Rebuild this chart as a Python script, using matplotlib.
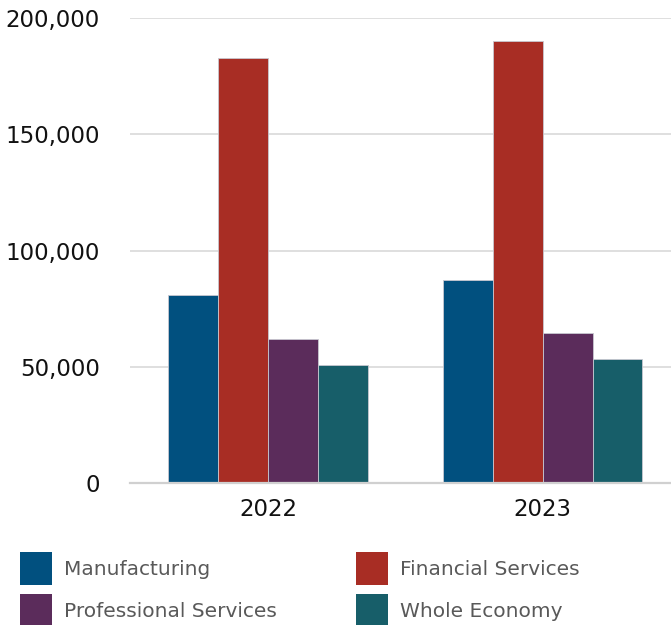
import numpy as np
import matplotlib.pyplot as plt
from matplotlib.patches import Patch

years = ['2022', '2023']
series = ['Manufacturing', 'Financial Services', 'Professional Services', 'Whole Economy']
manufacturing = [81000, 87300]
financial = [182800, 190200]
professional = [61800, 64400]
whole_economy = [51000, 53300]
colours = ['#01507f', '#a82d24', '#5b2c5b', '#175e69']

values = [manufacturing, financial, professional, whole_economy]

fig = plt.figure(figsize=(6.71, 6.25), dpi=100)
ax = fig.add_axes([0.194, 0.227, 0.806, 0.744])

x = np.arange(len(years))
width = 0.182
for i, (name, vals) in enumerate(zip(series, values)):
    ax.bar(x + (i - 1.5) * width, vals, width, color=colours[i],
           edgecolor='#c8c8d0', linewidth=0.6, label=name, zorder=3)

ax.set_xlim(-0.503, 1.468)
ax.set_ylim(0, 200000)
ax.set_yticks([0, 50000, 100000, 150000, 200000])
ax.set_yticklabels(['0', '50,000', '100,000', '150,000', '200,000'])
ax.set_xticks(x)
ax.set_xticklabels(years)
ax.tick_params(axis='both', length=0, labelsize=16.5, colors='#111111')
ax.tick_params(axis='y', pad=22)
ax.tick_params(axis='x', pad=11)
ax.yaxis.grid(True, color='#dcdcdc', linewidth=1.3, zorder=0)
ax.set_axisbelow(True)
for s in ['top', 'right', 'left']:
    ax.spines[s].set_visible(False)
ax.spines['bottom'].set_color('#d0d0d0')
ax.spines['bottom'].set_linewidth(1.6)
ax.spines['bottom'].set_zorder(4)

handles = [Patch(facecolor=c, edgecolor='none') for c in colours]
order = [0, 2, 1, 3]
leg = fig.legend([handles[i] for i in order], [series[i] for i in order],
                 ncol=2, loc='lower left', bbox_to_anchor=(0.03, -0.004),
                 frameon=False, fontsize=14.5, handlelength=1.6, handleheight=2.15,
                 handletextpad=0.6, columnspacing=3.9, labelspacing=0.45,
                 borderaxespad=0, borderpad=0)
for t in leg.get_texts():
    t.set_color('#595959')

fig.savefig('out.png', dpi=100)
